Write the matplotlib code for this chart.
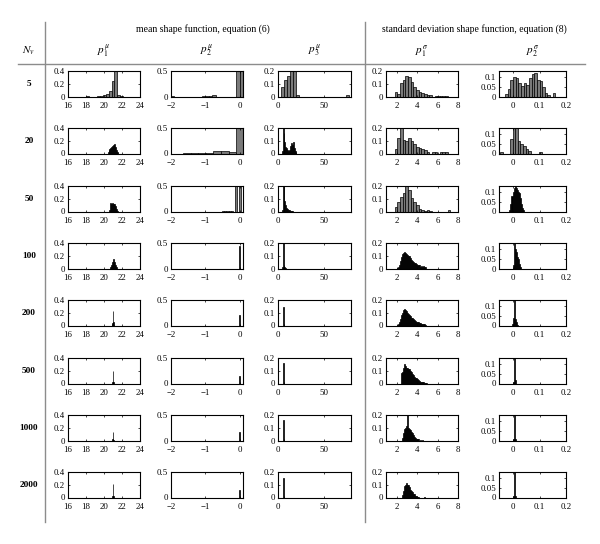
import numpy as np
import matplotlib
matplotlib.use('Agg')
import matplotlib.pyplot as plt
from matplotlib.lines import Line2D

plt.rcParams['font.family'] = ['Liberation Serif', 'DejaVu Serif']
plt.rcParams['mathtext.fontset'] = 'stix'

# --- data: bin centres, heights (relative frequency), bin width ---
n_v = ['5', '20', '50', '100', '200', '500', '1000', '2000']
col_titles = [r'$p_1^{\mu}$', r'$p_2^{\mu}$', r'$p_3^{\mu}$', r'$p_1^{\sigma}$', r'$p_2^{\sigma}$']

mu1_x = [
    [18.2, 19.35, 19.68, 20.01, 20.34, 20.67, 21.0, 21.33, 21.66, 21.99],
    [20.45, 20.55, 20.65, 20.75, 20.85, 20.95, 21.05, 21.15, 21.25, 21.35, 21.45, 21.55],
    [20.65, 20.75, 20.85, 20.95, 21.05, 21.15, 21.25, 21.35, 21.45],
    [20.75, 20.85, 20.95, 21.05, 21.15, 21.25, 21.35],
    [20.9, 20.95, 21.0, 21.05, 21.1],
    [20.95, 21.0, 21.05],
    [20.95, 21.0, 21.05],
    [20.95, 21.0, 21.05],
]
mu1_h = [
    [0.005, 0.01, 0.015, 0.025, 0.035, 0.08, 0.24, 0.42, 0.02, 0.006],
    [0.02, 0.05, 0.07, 0.08, 0.1, 0.11, 0.13, 0.155, 0.1, 0.05, 0.02, 0.01],
    [0.03, 0.13, 0.12, 0.135, 0.11, 0.125, 0.08, 0.04, 0.01],
    [0.02, 0.05, 0.1, 0.155, 0.1, 0.05, 0.02],
    [0.02, 0.04, 0.22, 0.05, 0.01],
    [0.03, 0.19, 0.02],
    [0.02, 0.13, 0.01],
    [0.03, 0.21, 0.02],
]
mu1_w = [0.33, 0.1, 0.1, 0.1, 0.05, 0.05, 0.05, 0.05]

mu2_x = [
    [-1.95, -1.05, -0.95, -0.85, -0.75, -0.05, 0.05],
    [-1.54, -1.32, -1.10, -0.88, -0.66, -0.44, -0.22, 0.0],
    [-0.48, -0.42, -0.36, -0.30, -0.24, -0.12, 0.0],
    [-0.01], [-0.01], [-0.01], [-0.01], [-0.01],
]
mu2_h = [
    [0.008, 0.01, 0.015, 0.015, 0.02, 0.55, 0.55],
    [0.012, 0.012, 0.01, 0.004, 0.05, 0.05, 0.02, 0.55],
    [0.01, 0.01, 0.01, 0.01, 0.01, 0.55, 0.55],
    [0.44], [0.21], [0.14], [0.17], [0.14],
]
mu2_w = [0.1, 0.22, 0.06, 0.03, 0.03, 0.03, 0.03, 0.03]

mu3_x = [
    [4.8, 8.0, 11.2, 14.4, 17.6, 20.8, 75.2],
    [4.5, 5.5, 6.5, 7.5, 8.5, 9.5, 10.5, 11.5, 12.5, 13.5, 14.5, 15.5, 16.5, 17.5, 18.5, 19.5],
    [4.5, 5.5, 6.5, 7.5, 8.5, 9.5, 10.5, 11.5, 12.5, 13.5, 14.5, 15.5],
    [4.5, 5.5, 6.5, 7.5, 8.5],
    [5.5, 6.5], [5.5, 6.5], [5.5, 6.5], [5.5, 6.5],
]
mu3_h = [
    [0.075, 0.13, 0.16, 0.21, 0.21, 0.015, 0.008],
    [0.02, 0.21, 0.16, 0.09, 0.05, 0.04, 0.03, 0.02, 0.03, 0.06, 0.085, 0.07, 0.09, 0.04, 0.02, 0.01],
    [0.01, 0.21, 0.21, 0.08, 0.05, 0.03, 0.02, 0.01, 0.008, 0.006, 0.005, 0.005],
    [0.01, 0.21, 0.03, 0.01, 0.005],
    [0.148, 0.01], [0.164, 0.01], [0.16, 0.01], [0.156, 0.01],
]
mu3_w = [3.2, 1, 1, 1, 1, 1, 1, 1]

sig1_x = [
    [1.93, 2.19, 2.45, 2.71, 2.97, 3.23, 3.49, 3.75, 4.01, 4.27, 4.53, 4.79, 5.05, 5.31,
     5.83, 6.09, 6.35, 6.61, 6.87],
    [1.93, 2.19, 2.45, 2.71, 2.97, 3.23, 3.49, 3.75, 4.01, 4.27, 4.53, 4.79, 5.05,
     5.57, 5.83, 6.35, 6.61, 6.87],
    [1.93, 2.19, 2.45, 2.71, 2.97, 3.23, 3.49, 3.75, 4.01, 4.27, 4.53, 4.79, 5.05, 5.31, 7.13],
    [2.05, 2.15, 2.25, 2.35, 2.45, 2.55, 2.65, 2.75, 2.85, 2.95, 3.05, 3.15, 3.25, 3.35, 3.45,
     3.55, 3.65, 3.75, 3.85, 3.95, 4.05, 4.15, 4.25, 4.35, 4.45, 4.55, 4.65, 4.75, 4.85],
    [2.05, 2.15, 2.25, 2.35, 2.45, 2.55, 2.65, 2.75, 2.85, 2.95, 3.05, 3.15, 3.25, 3.35, 3.45,
     3.55, 3.65, 3.75, 3.85, 3.95, 4.05, 4.15, 4.25, 4.35, 4.45, 4.55, 4.65, 4.75, 4.85],
    [2.45, 2.55, 2.65, 2.75, 2.85, 2.95, 3.05, 3.15, 3.25, 3.35, 3.45, 3.55, 3.65, 3.75, 3.85,
     3.95, 4.05, 4.15, 4.25, 4.35, 4.45, 4.55, 4.65, 4.75, 4.85, 4.95],
    [2.55, 2.65, 2.75, 2.85, 2.95, 3.05, 3.15, 3.25, 3.35, 3.45, 3.55, 3.65, 3.75, 3.85, 3.95,
     4.05, 4.15, 4.35, 4.55],
    [2.55, 2.65, 2.75, 2.85, 2.95, 3.05, 3.15, 3.25, 3.35, 3.45, 3.55, 3.65, 3.75, 3.85, 3.95,
     4.05, 4.15, 4.75],
]
sig1_h = [
    [0.034, 0.02, 0.106, 0.133, 0.16, 0.15, 0.11, 0.075, 0.05, 0.035, 0.025, 0.02, 0.008, 0.008,
     0.005, 0.005, 0.005, 0.005, 0.005],
    [0.036, 0.118, 0.21, 0.108, 0.095, 0.123, 0.097, 0.072, 0.051, 0.046, 0.036, 0.03, 0.01,
     0.008, 0.008, 0.008, 0.008, 0.008],
    [0.036, 0.074, 0.11, 0.144, 0.21, 0.17, 0.105, 0.072, 0.054, 0.02, 0.015, 0.005, 0.01, 0.005, 0.015],
    [0.005, 0.01, 0.03, 0.06, 0.09, 0.11, 0.125, 0.13, 0.12, 0.11, 0.105, 0.1, 0.095, 0.08, 0.07,
     0.06, 0.05, 0.045, 0.04, 0.035, 0.025, 0.03, 0.025, 0.015, 0.02, 0.01, 0.02, 0.01, 0.015],
    [0.005, 0.01, 0.03, 0.05, 0.08, 0.1, 0.12, 0.128, 0.12, 0.11, 0.1, 0.09, 0.08, 0.075, 0.06,
     0.055, 0.05, 0.04, 0.035, 0.03, 0.03, 0.025, 0.02, 0.02, 0.015, 0.015, 0.01, 0.01, 0.005],
    [0.08, 0.09, 0.12, 0.154, 0.14, 0.125, 0.12, 0.11, 0.11, 0.1, 0.09, 0.075, 0.065, 0.05, 0.045,
     0.04, 0.035, 0.025, 0.02, 0.015, 0.015, 0.01, 0.01, 0.005, 0.005, 0.005],
    [0.02, 0.06, 0.09, 0.1, 0.11, 0.21, 0.1, 0.09, 0.08, 0.07, 0.06, 0.04, 0.03, 0.02, 0.015,
     0.01, 0.01, 0.005, 0.005],
    [0.02, 0.05, 0.09, 0.1, 0.11, 0.1, 0.095, 0.08, 0.06, 0.05, 0.04, 0.03, 0.025, 0.015, 0.01,
     0.005, 0.005, 0.005],
]
sig1_w = [0.26, 0.26, 0.26, 0.1, 0.1, 0.1, 0.1, 0.1]

sig2_x = [
    [-0.025, -0.015, -0.005, 0.005, 0.015, 0.025, 0.035, 0.045, 0.055, 0.065, 0.075, 0.085,
     0.095, 0.105, 0.115, 0.125, 0.135, 0.155],
    [-0.043, -0.007, 0.003, 0.013, 0.023, 0.033, 0.043, 0.053, 0.063, 0.103],
    [-0.012, -0.008, -0.004, 0.0, 0.004, 0.008, 0.012, 0.016, 0.02, 0.024, 0.028, 0.032, 0.036, 0.04],
    [0.0, 0.004, 0.008, 0.012, 0.016, 0.02, 0.024, 0.028],
    [-0.002, 0.002, 0.006, 0.01, 0.014, 0.018],
    [0.002, 0.006, 0.01],
    [0.002, 0.006, 0.01],
    [0.002, 0.006, 0.01],
]
sig2_h = [
    [0.014, 0.036, 0.082, 0.1, 0.095, 0.068, 0.054, 0.071, 0.059, 0.095, 0.113, 0.12, 0.082,
     0.077, 0.05, 0.018, 0.009, 0.018],
    [0.009, 0.075, 0.15, 0.15, 0.066, 0.048, 0.036, 0.021, 0.012, 0.009],
    [0.01, 0.04, 0.08, 0.1, 0.12, 0.135, 0.12, 0.11, 0.1, 0.095, 0.07, 0.04, 0.02, 0.01],
    [0.02, 0.15, 0.1, 0.084, 0.06, 0.05, 0.021, 0.01],
    [0.01, 0.04, 0.14, 0.032, 0.02, 0.005],
    [0.01, 0.15, 0.02],
    [0.01, 0.15, 0.01],
    [0.01, 0.13, 0.01],
]
sig2_w = [0.01, 0.01, 0.004, 0.004, 0.004, 0.004, 0.004, 0.004]

columns = [(mu1_x, mu1_h, mu1_w), (mu2_x, mu2_h, mu2_w), (mu3_x, mu3_h, mu3_w),
           (sig1_x, sig1_h, sig1_w), (sig2_x, sig2_h, sig2_w)]

# --- axes settings per column ---
xlims = [(16, 24), (-2, 0.09), (0, 79), (0.95, 8), (-0.053, 0.2)]
ymaxs = [0.4, 0.5, 0.2, 0.2, 0.13]
xticks = [[16, 18, 20, 22, 24], [-2, -1, 0], [0, 50], [2, 4, 6, 8], [0, 0.1, 0.2]]
xticklabels = [['16', '18', '20', '22', '24'], ['\u22122', '\u22121', '0'], ['0', '50'],
               ['2', '4', '6', '8'], ['0', '0.1', '0.2']]
yticks = [[0, 0.2, 0.4], [0, 0.5], [0, 0.1, 0.2], [0, 0.1, 0.2], [0, 0.05, 0.1]]
yticklabels = [['0', '0.2', '0.4'], ['0', '0.5'], ['0', '0.1', '0.2'], ['0', '0.1', '0.2'],
               ['0', '0.05', '0.1']]

W, H = 600, 544
col_left = [68, 171, 278, 386, 499]
col_width = [72, 72, 73, 72, 67]
row_top = [71, 128, 186, 243, 300, 358, 415, 472]
ax_h = 25.5

fig = plt.figure(figsize=(W / 100, H / 100), dpi=100)

for c, (xs, hs, ws) in enumerate(columns):
    for r in range(len(n_v)):
        ax = fig.add_axes([col_left[c] / W, 1 - (row_top[r] + ax_h) / H,
                           col_width[c] / W, ax_h / H])
        lo, hi = xlims[c]
        bar_px = ws[r] / (hi - lo) * col_width[c]
        fc = '#7a7a7a' if bar_px > 2 else 'black'
        ax.bar(xs[r], hs[r], width=ws[r], color=fc, edgecolor='black', linewidth=0.5)
        ax.set_xlim(lo, hi)
        ax.set_ylim(0, ymaxs[c])
        ax.set_xticks(xticks[c], labels=xticklabels[c])
        ax.set_yticks(yticks[c], labels=yticklabels[c])
        ax.tick_params(direction='in', length=1.5, width=0.5, labelsize=6.3,
                       top=True, right=True)
        ax.tick_params(axis='x', pad=4)
        ax.tick_params(axis='y', pad=2)
        for s in ax.spines.values():
            s.set_linewidth(0.8)

# --- table-like header and separators ---
fig.text(203 / W, 1 - 29 / H, 'mean shape function, equation (6)', ha='center', va='center', fontsize=7)
fig.text(474 / W, 1 - 29 / H, 'standard deviation shape function, equation (8)', ha='center',
         va='center', fontsize=7)
fig.text(28 / W, 1 - 51 / H, r'$N_v$', ha='center', va='center', fontsize=8)
for c, t in enumerate(col_titles):
    fig.text((col_left[c] + col_width[c] / 2) / W, 1 - 51 / H, t, ha='center', va='center', fontsize=8)
for r, lab in enumerate(n_v):
    fig.text(29 / W, 1 - (row_top[r] + ax_h / 2) / H, lab, ha='center', va='center',
             fontsize=6.7, fontweight='bold')

line_kw = dict(color='#8c8c8c', linewidth=1, transform=fig.transFigure)
fig.add_artist(Line2D([18 / W, 585 / W], [1 - 64 / H, 1 - 64 / H], **line_kw))
fig.add_artist(Line2D([45 / W, 45 / W], [1 - 22 / H, 1 - 522 / H], **line_kw))
fig.add_artist(Line2D([365 / W, 365 / W], [1 - 22 / H, 1 - 522 / H], **line_kw))

fig.savefig('out.png', dpi=100)
